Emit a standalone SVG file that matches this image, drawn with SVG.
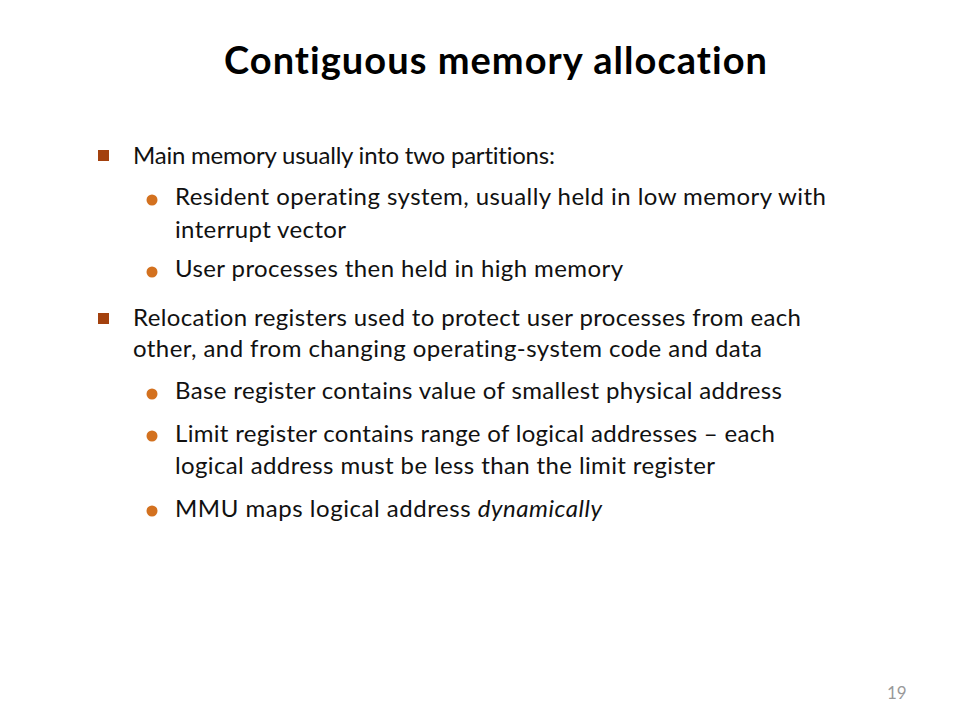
<svg xmlns="http://www.w3.org/2000/svg" width="960" height="720" viewBox="0 0 960 720">
<style>
text{font-variant-ligatures:none;font-feature-settings:"liga" 0,"clig" 0}
.title{font-family:Lato,"Open Sans","Liberation Sans",sans-serif;font-weight:bold;font-size:38px;fill:#000}
.body{font-family:Lato,"Open Sans","Liberation Sans",sans-serif;font-size:24px;fill:#111}
.sq{fill:#A3410E}
.dot{fill:#D3711F}
.pg{font-family:Lato,"Liberation Sans",sans-serif;font-size:17px;fill:#999}
</style>
<rect width="960" height="720" fill="#fff"/>
<g id="title"><text class="title" x="224" y="74" textLength="543">Contiguous memory allocation</text></g>
<g id="bullet1">
<rect class="sq" x="98" y="150" width="11" height="11"/>
<text class="body" x="133" y="164" textLength="422">Main memory usually into two partitions:</text>
</g>
<g id="bullet1a">
<circle class="dot" cx="152" cy="200" r="5.5"/>
<text class="body" x="175" y="205" textLength="651">Resident operating system, usually held in low memory with</text>
<text class="body" x="175" y="238" textLength="171">interrupt vector</text>
</g>
<g id="bullet1b">
<circle class="dot" cx="152" cy="272" r="5.5"/>
<text class="body" x="175" y="277" textLength="448">User processes then held in high memory</text>
</g>
<g id="bullet2">
<rect class="sq" x="98" y="313" width="11" height="11"/>
<text class="body" x="133" y="326" textLength="668">Relocation registers used to protect user processes from each</text>
<text class="body" x="133" y="357" textLength="629">other, and from changing operating-system code and data</text>
</g>
<g id="bullet2a">
<circle class="dot" cx="152" cy="394" r="5.5"/>
<text class="body" x="175" y="399" textLength="607">Base register contains value of smallest physical address</text>
</g>
<g id="bullet2b">
<circle class="dot" cx="152" cy="436" r="5.5"/>
<text class="body" x="175" y="442" textLength="600">Limit register contains range of logical addresses – each</text>
<text class="body" x="175" y="474" textLength="540">logical address must be less than the limit register</text>
</g>
<g id="bullet2c">
<circle class="dot" cx="152" cy="511" r="5.5"/>
<text class="body" x="175" y="517" textLength="427">MMU maps logical address <tspan font-style="italic">dynamically</tspan></text>
</g>
<g id="page"><text class="pg" x="887" y="699">19</text></g>
</svg>
